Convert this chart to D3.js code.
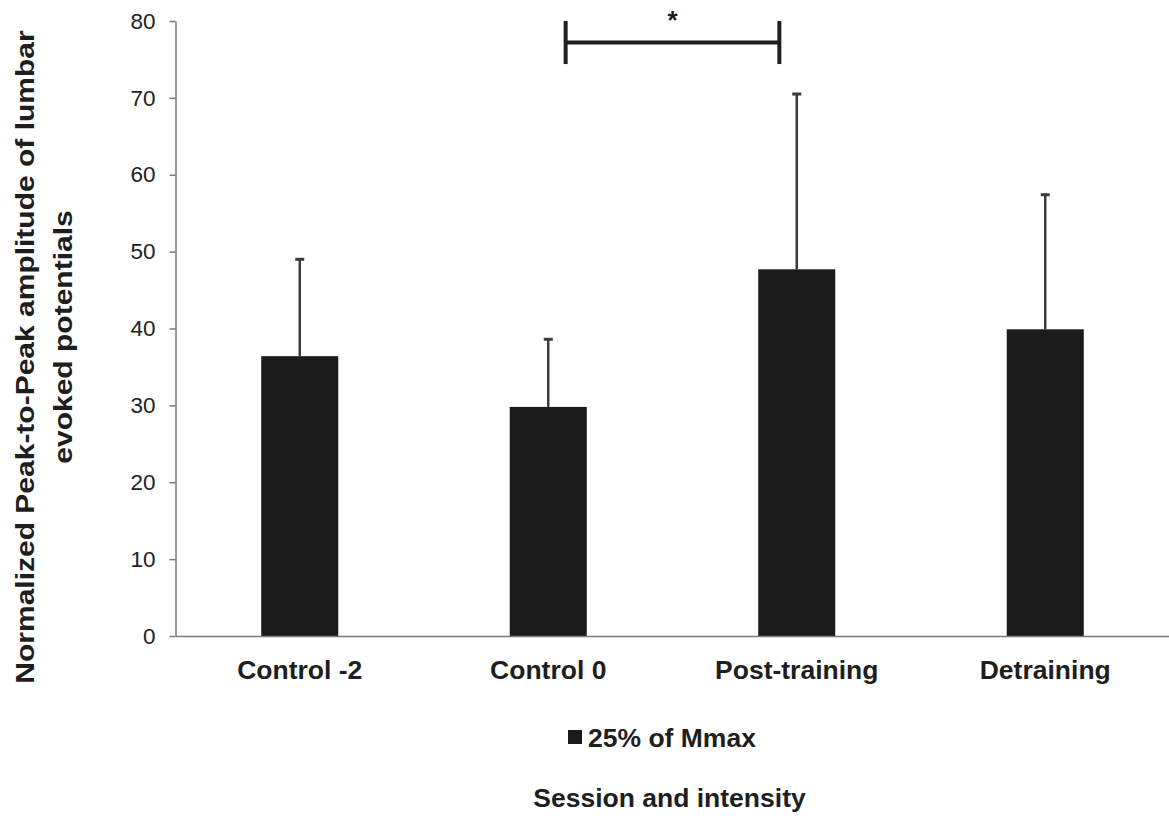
<!DOCTYPE html>
<html>
<head>
<meta charset="utf-8">
<script src="https://cdn.jsdelivr.net/npm/d3@7"></script>
<style>
  html, body { margin: 0; padding: 0; background: #fff; }
  svg { display: block; font-family: "Liberation Sans", Arial, sans-serif; }
</style>
</head>
<body>
<svg id="chart" width="1169" height="819"></svg>
<script>
// Sessions on the x axis
const categories = ["Control -2", "Control 0", "Post-training", "Detraining"];
// Mean normalized peak-to-peak amplitude at 25% of Mmax
const means = [36.4, 29.8, 47.7, 39.9];
// Standard deviations (upper error bars only)
const sds = [12.6, 8.8, 22.8, 17.5];
// Y axis ticks
const yTicks = [0, 10, 20, 30, 40, 50, 60, 70, 80];
// Significant pairwise difference
const sigPair = ["Control 0", "Post-training"];
const sigLevel = 77.2;
const sigLabel = "*";
const seriesName = "25% of Mmax";
const yTitleLines = ["Normalized Peak-to-Peak amplitude of lumbar", "evoked potentials"];
const xTitle = "Session and intensity";

const svg = d3.select("#chart");
const plotLeft = 175.5, plotRight = 1169.5, plotTop = 21, plotBottom = 636;

const x = d3.scaleBand().domain(categories).range([plotLeft, plotRight])
  .paddingInner(0.69).paddingOuter(0.345);
const y = d3.scaleLinear().domain([0, 80]).range([plotBottom, plotTop]);

const axisColor = "#7a7a7a";
const barColor = "#1b1b1b";
const textColor = "#1e1e1e";

// Bars
svg.append("g").selectAll("rect").data(categories).join("rect")
  .attr("x", d => x(d))
  .attr("y", (d, i) => y(means[i]))
  .attr("width", x.bandwidth())
  .attr("height", (d, i) => y(0) - y(means[i]))
  .attr("fill", barColor);

// Error bars
const eb = svg.append("g").attr("stroke", "#3a3a3a");
categories.forEach((c, i) => {
  const cx = x(c) + x.bandwidth() / 2;
  eb.append("line").attr("x1", cx).attr("x2", cx)
    .attr("y1", y(means[i])).attr("y2", y(means[i] + sds[i]))
    .attr("stroke-width", 2.5);
  eb.append("line").attr("x1", cx - 4.5).attr("x2", cx + 4.5)
    .attr("y1", y(means[i] + sds[i])).attr("y2", y(means[i] + sds[i]))
    .attr("stroke-width", 3);
});

// Y axis
const yAxis = svg.append("g").attr("transform", `translate(${plotLeft},0)`)
  .call(d3.axisLeft(y).tickValues(yTicks).tickSize(6).tickSizeOuter(0).tickPadding(14));
yAxis.select(".domain").attr("stroke", axisColor).attr("stroke-width", 1.5);
yAxis.selectAll(".tick line").attr("stroke", axisColor).attr("stroke-width", 1.5);
yAxis.selectAll(".tick text")
  .attr("font-family", "'Liberation Sans', Arial, sans-serif")
  .attr("font-size", 22.5).attr("fill", "#222");

// X axis (baseline with category labels, no ticks)
const xAxis = svg.append("g").attr("transform", `translate(0,${plotBottom})`)
  .call(d3.axisBottom(x).tickSize(0).tickSizeOuter(0).tickPadding(31));
xAxis.select(".domain").attr("stroke", axisColor).attr("stroke-width", 1.5);
xAxis.selectAll(".tick text")
  .attr("font-family", "'Liberation Sans', Arial, sans-serif")
  .attr("font-size", 26.5).attr("font-weight", "bold").attr("fill", textColor)
  .attr("dy", "0.45em");

// Significance bracket
const inset = x.step() * 0.07;
const bx1 = x(sigPair[0]) + x.bandwidth() / 2 + inset;
const bx2 = x(sigPair[1]) + x.bandwidth() / 2 - inset;
const br = svg.append("g").attr("stroke", textColor).attr("stroke-width", 4);
br.append("line").attr("x1", bx1).attr("x2", bx2).attr("y1", y(sigLevel)).attr("y2", y(sigLevel));
br.append("line").attr("x1", bx1).attr("x2", bx1).attr("y1", y(sigLevel + 2.8)).attr("y2", y(sigLevel - 2.8));
br.append("line").attr("x1", bx2).attr("x2", bx2).attr("y1", y(sigLevel + 2.8)).attr("y2", y(sigLevel - 2.8));
svg.append("text").attr("x", (bx1 + bx2) / 2).attr("y", y(sigLevel) - 14)
  .attr("text-anchor", "middle").attr("font-size", 26).attr("font-weight", "bold")
  .attr("fill", textColor).text(sigLabel);

// Legend
const lg = svg.append("g").attr("transform", "translate(568,730)");
lg.append("rect").attr("width", 14).attr("height", 14).attr("fill", barColor);
lg.append("text").attr("x", 20).attr("y", 16.5).attr("font-size", 26.5)
  .attr("font-weight", "bold").attr("fill", textColor).text(seriesName);

// X title
svg.append("text").attr("x", 669.5).attr("y", 807).attr("text-anchor", "middle")
  .attr("font-size", 26.5).attr("font-weight", "bold").attr("fill", textColor).text(xTitle);

// Y title, two lines (rotated)
const yTitleRows = [
  { text: yTitleLines[0], center: 357, baseline: 34 },
  { text: yTitleLines[1], center: 337, baseline: 72 }
];
yTitleRows.forEach(r => {
  svg.append("text")
    .attr("transform", `translate(${r.baseline},${r.center}) rotate(-90) scale(1,0.88)`)
    .attr("text-anchor", "middle")
    .attr("font-size", 30).attr("font-weight", "bold").attr("fill", textColor)
    .text(r.text);
});
</script>
</body>
</html>
